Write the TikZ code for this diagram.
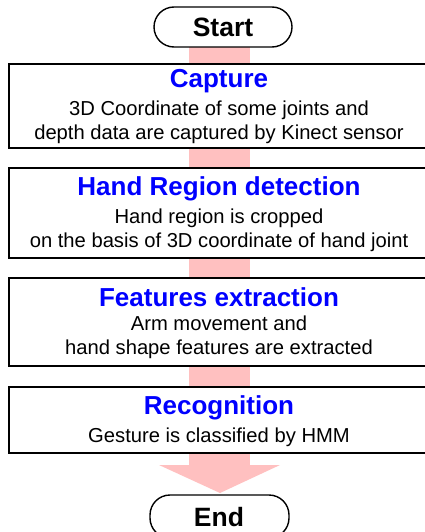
\documentclass[tikz,border=0pt]{standalone}
\usepackage{fontspec}
\setmainfont{Liberation Sans}
\definecolor{flowpink}{RGB}{255,192,192}
\definecolor{titleblue}{RGB}{0,0,255}
\begin{document}
\begin{tikzpicture}[x=1pt,y=-1pt,
  terminal/.style={draw=black,line width=1.4pt,rounded corners=20pt},
  stage/.style={draw=black,line width=2.4pt,fill=white},
  titletext/.style={text=titleblue,font=\fontsize{26}{30}\selectfont\bfseries,inner sep=0pt},
  bodytext/.style={font=\fontsize{20.2}{24}\selectfont,align=center,inner sep=0pt},
  endtext/.style={font=\fontsize{26.5}{30}\selectfont\bfseries,inner sep=0pt}]
\useasboundingbox (0,0) rectangle (425,532);
\clip (0,0) rectangle (425,532);

% flow arrow running behind the stages
\fill[flowpink] (189,47) rectangle (250,465);
\fill[flowpink] (159,465) -- (280,465) -- (220,493) -- cycle;

% terminals
\draw[terminal,fill=white] (154,7) rectangle (292,47);
\node[endtext] (start) at (223,27) {Start};
\draw[terminal,fill=white] (150,495) rectangle (289,538);
\node[endtext] (end) at (219,517) {End};

% stages
\draw[stage] (9,64) rectangle (440,148);
\node[titletext] (t1) at (219,81) {Capture};
\node[bodytext] (b1) at (219,122) {3D Coordinate of some joints and\\depth data are captured by Kinect sensor};

\draw[stage] (9,168) rectangle (440,258);
\node[titletext] (t2) at (219,189) {Hand Region detection};
\node[bodytext] (b2) at (219,230) {Hand region is cropped\\on the basis of 3D coordinate of hand joint};

\draw[stage] (9,278) rectangle (440,366);
\node[titletext] (t3) at (219,297) {Features extraction};
\node[bodytext] (b3) at (219,337) {Arm movement and\\hand shape features are extracted};

\draw[stage] (9,387) rectangle (440,453);
\node[titletext] (t4) at (219,408) {Recognition};
\node[bodytext] (b4) at (219,437) {Gesture is classified by HMM};
\end{tikzpicture}
\end{document}
